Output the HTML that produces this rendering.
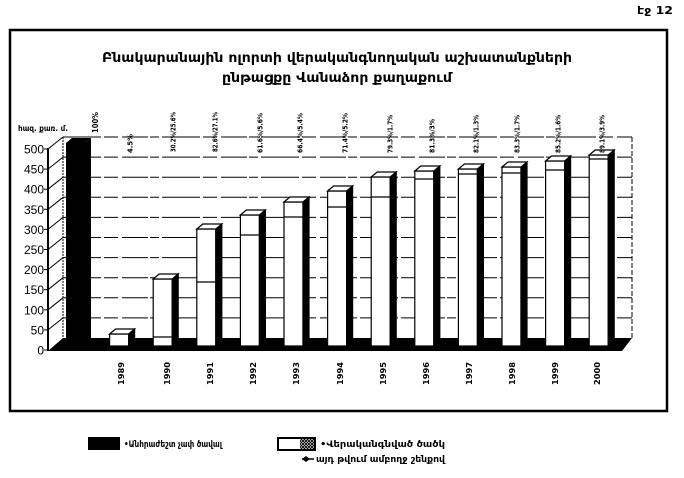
<!DOCTYPE html>
<html><head><meta charset="utf-8"><style>
html,body{margin:0;padding:0;background:#fff;}
svg{display:block;}
text{font-family:"DejaVu Sans","Liberation Sans",sans-serif;fill:#000;}
</style></head><body>
<svg width="684" height="478" viewBox="0 0 684 478" xmlns="http://www.w3.org/2000/svg">
<defs>
<pattern id="hx" width="3" height="3" patternUnits="userSpaceOnUse">
<rect width="3" height="3" fill="#fff"/>
<path d="M0,0L3,3M3,0L0,3" stroke="#000" stroke-width="0.9"/>
</pattern>
</defs>
<rect width="684" height="478" fill="#fff"/>
<text x="637" y="14" font-size="11" font-weight="bold" textLength="36" lengthAdjust="spacingAndGlyphs">էջ 12</text>
<rect x="10" y="30" width="657" height="381" fill="none" stroke="#000" stroke-width="2.5"/>

<text x="102" y="62" font-size="13" font-weight="bold" textLength="470" lengthAdjust="spacingAndGlyphs">Բնակարանային ոլորտի վերականգնողական աշխատանքների</text>
<text x="222" y="82" font-size="13" font-weight="bold" textLength="230" lengthAdjust="spacingAndGlyphs">ընթացքը Վանաձոր քաղաքում</text>

<text x="18" y="131" font-size="8" font-weight="bold" textLength="50" lengthAdjust="spacingAndGlyphs">հազ. քառ. մ.</text>

<!-- back wall gridlines -->
<g stroke="#000" stroke-width="1" stroke-dasharray="38 3 14 4 26 2 9 3">
<line x1="63" y1="137" x2="632" y2="137"/>
<line x1="63" y1="157.1" x2="632" y2="157.1"/>
<line x1="63" y1="177.2" x2="632" y2="177.2"/>
<line x1="63" y1="197.3" x2="632" y2="197.3"/>
<line x1="63" y1="217.4" x2="632" y2="217.4"/>
<line x1="63" y1="237.5" x2="632" y2="237.5"/>
<line x1="63" y1="257.6" x2="632" y2="257.6"/>
<line x1="63" y1="277.7" x2="632" y2="277.7"/>
<line x1="63" y1="297.8" x2="632" y2="297.8"/>
<line x1="63" y1="317.9" x2="632" y2="317.9"/>
</g>
<line x1="632" y1="137" x2="632" y2="338" stroke="#000" stroke-width="1" stroke-dasharray="5 2"/>
<line x1="63" y1="137" x2="63" y2="338" stroke="#000" stroke-width="1" stroke-dasharray="2 1"/>

<!-- left wall diagonals -->
<g stroke="#000" stroke-width="1">
<line x1="48" y1="149" x2="63" y2="137"/>
<line x1="48" y1="169.1" x2="63" y2="157.1"/>
<line x1="48" y1="189.2" x2="63" y2="177.2"/>
<line x1="48" y1="209.3" x2="63" y2="197.3"/>
<line x1="48" y1="229.4" x2="63" y2="217.4"/>
<line x1="48" y1="249.5" x2="63" y2="237.5"/>
<line x1="48" y1="269.6" x2="63" y2="257.6"/>
<line x1="48" y1="289.7" x2="63" y2="277.7"/>
<line x1="48" y1="309.8" x2="63" y2="297.8"/>
<line x1="48" y1="329.9" x2="63" y2="317.9"/>
</g>
<line x1="48" y1="148" x2="48" y2="351" stroke="#000" stroke-width="2"/>
<g stroke="#000" stroke-width="1">
<line x1="44" y1="149" x2="48" y2="149"/><line x1="44" y1="169.1" x2="48" y2="169.1"/>
<line x1="44" y1="189.2" x2="48" y2="189.2"/><line x1="44" y1="209.3" x2="48" y2="209.3"/>
<line x1="44" y1="229.4" x2="48" y2="229.4"/><line x1="44" y1="249.5" x2="48" y2="249.5"/>
<line x1="44" y1="269.6" x2="48" y2="269.6"/><line x1="44" y1="289.7" x2="48" y2="289.7"/>
<line x1="44" y1="309.8" x2="48" y2="309.8"/><line x1="44" y1="329.9" x2="48" y2="329.9"/>
<line x1="44" y1="350" x2="48" y2="350"/>
</g>
<g font-family="Liberation Sans, sans-serif" font-size="12" text-anchor="end">
<text x="44" y="153.5" style="font-family:'Liberation Sans',sans-serif">500</text>
<text x="44" y="173.6" style="font-family:'Liberation Sans',sans-serif">450</text>
<text x="44" y="193.7" style="font-family:'Liberation Sans',sans-serif">400</text>
<text x="44" y="213.8" style="font-family:'Liberation Sans',sans-serif">350</text>
<text x="44" y="233.9" style="font-family:'Liberation Sans',sans-serif">300</text>
<text x="44" y="254" style="font-family:'Liberation Sans',sans-serif">250</text>
<text x="44" y="274.1" style="font-family:'Liberation Sans',sans-serif">200</text>
<text x="44" y="294.2" style="font-family:'Liberation Sans',sans-serif">150</text>
<text x="44" y="314.3" style="font-family:'Liberation Sans',sans-serif">100</text>
<text x="44" y="334.4" style="font-family:'Liberation Sans',sans-serif">50</text>
<text x="44" y="354.5" style="font-family:'Liberation Sans',sans-serif">0</text>
</g>

<!-- floor -->
<polygon points="48,351 622,351 632,338 63,338" fill="#000"/>

<!-- black bar -->
<rect x="66" y="143" width="19" height="203" fill="#000"/>
<polygon points="85,143 91,138 91,341 85,346" fill="#000"/>
<polygon points="66,143 72,138 91,138 85,143" fill="#000"/>

<!-- white bars -->
<g stroke="#000" stroke-width="1.2">
<rect x="109.6" y="334" width="19" height="12" fill="#fff"/>
<polygon points="128.6,334 134.6,329 134.6,341 128.6,346" fill="#000"/>
<polygon points="109.6,334 115.6,329 134.6,329 128.6,334" fill="#fff"/>

<rect x="153.2" y="279" width="19" height="67" fill="#fff"/>
<polygon points="172.2,279 178.2,274 178.2,341 172.2,346" fill="#000"/>
<polygon points="153.2,279 159.2,274 178.2,274 172.2,279" fill="#fff"/>
<line x1="153.2" y1="337" x2="172.2" y2="337"/>

<rect x="196.8" y="229" width="19" height="117" fill="#fff"/>
<polygon points="215.8,229 221.8,224 221.8,341 215.8,346" fill="#000"/>
<polygon points="196.8,229 202.8,224 221.8,224 215.8,229" fill="#fff"/>
<line x1="196.8" y1="282" x2="215.8" y2="282"/>

<rect x="240.4" y="215" width="19" height="131" fill="#fff"/>
<polygon points="259.4,215 265.4,210 265.4,341 259.4,346" fill="#000"/>
<polygon points="240.4,215 246.4,210 265.4,210 259.4,215" fill="#fff"/>
<line x1="240.4" y1="235" x2="259.4" y2="235"/>

<rect x="284" y="202" width="19" height="144" fill="#fff"/>
<polygon points="303,202 309,197 309,341 303,346" fill="#000"/>
<polygon points="284,202 290,197 309,197 303,202" fill="#fff"/>
<line x1="284" y1="217" x2="303" y2="217"/>

<rect x="327.6" y="191" width="19" height="155" fill="#fff"/>
<polygon points="346.6,191 352.6,186 352.6,341 346.6,346" fill="#000"/>
<polygon points="327.6,191 333.6,186 352.6,186 346.6,191" fill="#fff"/>
<line x1="327.6" y1="207" x2="346.6" y2="207"/>

<rect x="371.2" y="177" width="19" height="169" fill="#fff"/>
<polygon points="390.2,177 396.2,172 396.2,341 390.2,346" fill="#000"/>
<polygon points="371.2,177 377.2,172 396.2,172 390.2,177" fill="#fff"/>
<line x1="371.2" y1="197" x2="390.2" y2="197"/>

<rect x="414.8" y="171" width="19" height="175" fill="#fff"/>
<polygon points="433.8,171 439.8,166 439.8,341 433.8,346" fill="#000"/>
<polygon points="414.8,171 420.8,166 439.8,166 433.8,171" fill="#fff"/>
<line x1="414.8" y1="179" x2="433.8" y2="179"/>

<rect x="458.4" y="169" width="19" height="177" fill="#fff"/>
<polygon points="477.4,169 483.4,164 483.4,341 477.4,346" fill="#000"/>
<polygon points="458.4,169 464.4,164 483.4,164 477.4,169" fill="#fff"/>
<line x1="458.4" y1="174" x2="477.4" y2="174"/>

<rect x="502" y="167" width="19" height="179" fill="#fff"/>
<polygon points="521,167 527,162 527,341 521,346" fill="#000"/>
<polygon points="502,167 508,162 527,162 521,167" fill="#fff"/>
<line x1="502" y1="173" x2="521" y2="173"/>

<rect x="545.6" y="161" width="19" height="185" fill="#fff"/>
<polygon points="564.6,161 570.6,156 570.6,341 564.6,346" fill="#000"/>
<polygon points="545.6,161 551.6,156 570.6,156 564.6,161" fill="#fff"/>
<line x1="545.6" y1="170" x2="564.6" y2="170"/>

<rect x="589.2" y="155" width="19" height="191" fill="#fff"/>
<polygon points="608.2,155 614.2,150 614.2,341 608.2,346" fill="#000"/>
<polygon points="589.2,155 595.2,150 614.2,150 608.2,155" fill="#fff"/>
<line x1="589.2" y1="159" x2="608.2" y2="159"/>
</g>

<!-- percentage labels -->
<g font-size="7" font-weight="bold" style="font-family:'Liberation Sans',sans-serif">
<text transform="translate(98,133) rotate(-90)" font-size="8" textLength="21" lengthAdjust="spacingAndGlyphs">100%</text>
<text transform="translate(132.5,153) rotate(-90)" textLength="19" lengthAdjust="spacingAndGlyphs">4.5%</text>
<text transform="translate(175.5,152) rotate(-90)" textLength="40" lengthAdjust="spacingAndGlyphs">30.2%/25.6%</text>
<text transform="translate(217.5,152) rotate(-90)" textLength="40" lengthAdjust="spacingAndGlyphs">82.6%/27.1%</text>
<text transform="translate(262.5,153) rotate(-90)" textLength="40" lengthAdjust="spacingAndGlyphs">61.6%/5.6%</text>
<text transform="translate(302.5,153) rotate(-90)" textLength="40" lengthAdjust="spacingAndGlyphs">66.4%/5.4%</text>
<text transform="translate(347.5,153) rotate(-90)" textLength="40" lengthAdjust="spacingAndGlyphs">71.4%/5.2%</text>
<text transform="translate(392.5,153) rotate(-90)" textLength="38" lengthAdjust="spacingAndGlyphs">79.3%/1.7%</text>
<text transform="translate(434.5,153) rotate(-90)" textLength="34" lengthAdjust="spacingAndGlyphs">81.3%/3%</text>
<text transform="translate(478.5,153) rotate(-90)" textLength="38" lengthAdjust="spacingAndGlyphs">82.1%/1.3%</text>
<text transform="translate(519.5,153) rotate(-90)" textLength="38" lengthAdjust="spacingAndGlyphs">83.3%/1.7%</text>
<text transform="translate(560.5,153) rotate(-90)" textLength="38" lengthAdjust="spacingAndGlyphs">85.2%/1.6%</text>
<text transform="translate(604.5,153) rotate(-90)" textLength="38" lengthAdjust="spacingAndGlyphs">89.1%/3.9%</text>
</g>

<!-- year labels -->
<g font-size="8" font-weight="bold" style="font-family:'Liberation Sans',sans-serif">
<text transform="translate(124,385) rotate(-90)" textLength="23" lengthAdjust="spacingAndGlyphs">1989</text>
<text transform="translate(170,385) rotate(-90)" textLength="23" lengthAdjust="spacingAndGlyphs">1990</text>
<text transform="translate(213,385) rotate(-90)" textLength="23" lengthAdjust="spacingAndGlyphs">1991</text>
<text transform="translate(256,385) rotate(-90)" textLength="23" lengthAdjust="spacingAndGlyphs">1992</text>
<text transform="translate(299,385) rotate(-90)" textLength="23" lengthAdjust="spacingAndGlyphs">1993</text>
<text transform="translate(343,385) rotate(-90)" textLength="23" lengthAdjust="spacingAndGlyphs">1994</text>
<text transform="translate(386,385) rotate(-90)" textLength="23" lengthAdjust="spacingAndGlyphs">1995</text>
<text transform="translate(429,385) rotate(-90)" textLength="23" lengthAdjust="spacingAndGlyphs">1996</text>
<text transform="translate(472,385) rotate(-90)" textLength="23" lengthAdjust="spacingAndGlyphs">1997</text>
<text transform="translate(515,385) rotate(-90)" textLength="23" lengthAdjust="spacingAndGlyphs">1998</text>
<text transform="translate(558,385) rotate(-90)" textLength="23" lengthAdjust="spacingAndGlyphs">1999</text>
<text transform="translate(600,385) rotate(-90)" textLength="23" lengthAdjust="spacingAndGlyphs">2000</text>
</g>

<!-- legend -->
<rect x="88" y="437" width="32" height="13" fill="#000"/>
<text x="124" y="447" font-size="9" font-weight="bold" textLength="98" lengthAdjust="spacingAndGlyphs">•Անհրաժեշտ չափ ծավալ</text>
<rect x="278" y="438" width="37" height="12" fill="#fff" stroke="#000" stroke-width="2"/>
<rect x="300" y="439" width="14" height="10" fill="url(#hx)"/>
<text x="320" y="447" font-size="9" font-weight="bold" textLength="125" lengthAdjust="spacingAndGlyphs">•Վերականգնված    ծածկ</text>
<polygon points="302,459 306,456 310,459 306,462" fill="#000"/>
<line x1="302" y1="459" x2="314" y2="459" stroke="#000" stroke-width="1.5"/>
<text x="316" y="462" font-size="9" font-weight="bold" textLength="129" lengthAdjust="spacingAndGlyphs">այդ թվում ամբողջ շենքով</text>
</svg>
</body></html>
